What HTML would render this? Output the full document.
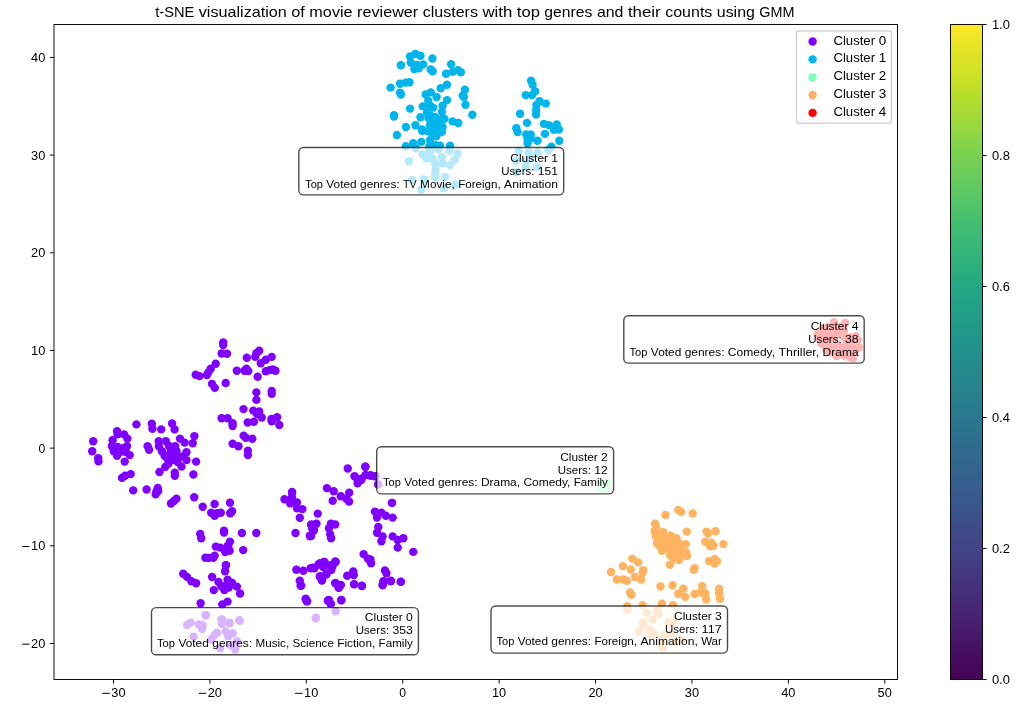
<!DOCTYPE html>
<html><head><meta charset="utf-8"><title>t-SNE clusters</title>
<style>html,body{margin:0;padding:0;background:#fff;}svg{display:block;will-change:transform;}text{font-family:"Liberation Sans",sans-serif;fill:#000;}</style></head>
<body>
<svg width="1022" height="706" viewBox="0 0 1022 706">
<rect x="0" y="0" width="1022" height="706" fill="#ffffff"/>
<defs><linearGradient id="vir" x1="0" y1="1" x2="0" y2="0">
<stop offset="0%" stop-color="#440154"/>
<stop offset="10%" stop-color="#482475"/>
<stop offset="20%" stop-color="#414487"/>
<stop offset="30%" stop-color="#355f8d"/>
<stop offset="40%" stop-color="#2a788e"/>
<stop offset="50%" stop-color="#21918c"/>
<stop offset="60%" stop-color="#22a884"/>
<stop offset="70%" stop-color="#44bf70"/>
<stop offset="80%" stop-color="#7ad151"/>
<stop offset="90%" stop-color="#bddf26"/>
<stop offset="100%" stop-color="#fde725"/>
</linearGradient></defs>
<g fill="#8000ff">
<circle cx="223.2" cy="342.5" r="4.2"/><circle cx="223.2" cy="345.0" r="4.2"/><circle cx="221.6" cy="353.5" r="4.2"/><circle cx="227.0" cy="353.8" r="4.2"/><circle cx="215.7" cy="363.8" r="4.2"/><circle cx="210.7" cy="368.8" r="4.2"/><circle cx="208.2" cy="372.6" r="4.2"/><circle cx="206.9" cy="375.1" r="4.2"/><circle cx="195.7" cy="374.8" r="4.2"/><circle cx="199.4" cy="376.1" r="4.2"/><circle cx="212.0" cy="383.9" r="4.2"/><circle cx="214.8" cy="387.9" r="4.2"/><circle cx="225.7" cy="383.0" r="4.2"/><circle cx="246.8" cy="357.8" r="4.2"/><circle cx="255.2" cy="356.9" r="4.2"/><circle cx="256.4" cy="353.2" r="4.2"/><circle cx="259.2" cy="350.7" r="4.2"/><circle cx="260.8" cy="363.2" r="4.2"/><circle cx="265.8" cy="359.8" r="4.2"/><circle cx="271.7" cy="356.9" r="4.2"/><circle cx="236.8" cy="370.7" r="4.2"/><circle cx="244.5" cy="370.7" r="4.2"/><circle cx="246.4" cy="368.8" r="4.2"/><circle cx="248.3" cy="371.1" r="4.2"/><circle cx="265.8" cy="371.3" r="4.2"/><circle cx="269.6" cy="370.1" r="4.2"/><circle cx="272.7" cy="369.5" r="4.2"/><circle cx="275.5" cy="370.7" r="4.2"/><circle cx="257.7" cy="376.7" r="4.2"/><circle cx="256.4" cy="392.4" r="4.2"/><circle cx="256.4" cy="399.9" r="4.2"/><circle cx="271.7" cy="391.0" r="4.2"/><circle cx="271.7" cy="393.9" r="4.2"/><circle cx="243.5" cy="409.1" r="4.2"/><circle cx="253.3" cy="410.6" r="4.2"/><circle cx="259.2" cy="411.5" r="4.2"/><circle cx="257.0" cy="414.0" r="4.2"/><circle cx="261.7" cy="417.5" r="4.2"/><circle cx="221.6" cy="418.2" r="4.2"/><circle cx="227.6" cy="418.2" r="4.2"/><circle cx="232.6" cy="423.2" r="4.2"/><circle cx="232.6" cy="426.0" r="4.2"/><circle cx="247.7" cy="422.5" r="4.2"/><circle cx="253.9" cy="421.7" r="4.2"/><circle cx="271.5" cy="419.0" r="4.2"/><circle cx="277.1" cy="417.3" r="4.2"/><circle cx="271.7" cy="421.3" r="4.2"/><circle cx="279.3" cy="425.0" r="4.2"/><circle cx="243.6" cy="435.7" r="4.2"/><circle cx="245.8" cy="437.8" r="4.2"/><circle cx="252.3" cy="438.8" r="4.2"/><circle cx="232.6" cy="443.8" r="4.2"/><circle cx="238.5" cy="446.3" r="4.2"/><circle cx="247.9" cy="450.7" r="4.2"/><circle cx="247.9" cy="455.1" r="4.2"/><circle cx="292.1" cy="492.0" r="4.2"/><circle cx="93.2" cy="441.3" r="4.2"/><circle cx="92.2" cy="451.3" r="4.2"/><circle cx="98.2" cy="458.2" r="4.2"/><circle cx="98.5" cy="461.4" r="4.2"/><circle cx="136.4" cy="424.4" r="4.2"/><circle cx="117.0" cy="431.1" r="4.2"/><circle cx="117.6" cy="434.4" r="4.2"/><circle cx="124.1" cy="434.4" r="4.2"/><circle cx="127.4" cy="438.6" r="4.2"/><circle cx="112.6" cy="440.3" r="4.2"/><circle cx="111.9" cy="446.3" r="4.2"/><circle cx="117.6" cy="447.0" r="4.2"/><circle cx="127.0" cy="446.3" r="4.2"/><circle cx="123.2" cy="448.2" r="4.2"/><circle cx="113.8" cy="451.3" r="4.2"/><circle cx="120.1" cy="452.0" r="4.2"/><circle cx="117.0" cy="455.7" r="4.2"/><circle cx="125.7" cy="452.0" r="4.2"/><circle cx="129.7" cy="455.1" r="4.2"/><circle cx="124.7" cy="461.6" r="4.2"/><circle cx="130.7" cy="474.1" r="4.2"/><circle cx="125.1" cy="475.8" r="4.2"/><circle cx="122.0" cy="477.9" r="4.2"/><circle cx="133.2" cy="490.4" r="4.2"/><circle cx="146.6" cy="489.5" r="4.2"/><circle cx="157.7" cy="487.9" r="4.2"/><circle cx="156.4" cy="491.4" r="4.2"/><circle cx="151.8" cy="423.8" r="4.2"/><circle cx="152.4" cy="428.8" r="4.2"/><circle cx="161.2" cy="429.4" r="4.2"/><circle cx="172.1" cy="423.5" r="4.2"/><circle cx="174.6" cy="429.4" r="4.2"/><circle cx="147.6" cy="446.3" r="4.2"/><circle cx="149.1" cy="449.8" r="4.2"/><circle cx="158.7" cy="441.3" r="4.2"/><circle cx="165.8" cy="441.1" r="4.2"/><circle cx="158.9" cy="446.3" r="4.2"/><circle cx="162.0" cy="451.3" r="4.2"/><circle cx="164.6" cy="455.7" r="4.2"/><circle cx="167.7" cy="458.9" r="4.2"/><circle cx="168.9" cy="445.7" r="4.2"/><circle cx="170.8" cy="451.3" r="4.2"/><circle cx="175.2" cy="446.3" r="4.2"/><circle cx="176.5" cy="451.3" r="4.2"/><circle cx="173.9" cy="456.4" r="4.2"/><circle cx="180.0" cy="438.6" r="4.2"/><circle cx="184.6" cy="442.6" r="4.2"/><circle cx="192.7" cy="443.2" r="4.2"/><circle cx="194.4" cy="436.1" r="4.2"/><circle cx="186.5" cy="452.3" r="4.2"/><circle cx="182.7" cy="456.4" r="4.2"/><circle cx="186.5" cy="460.1" r="4.2"/><circle cx="177.7" cy="462.0" r="4.2"/><circle cx="181.5" cy="466.6" r="4.2"/><circle cx="168.3" cy="463.9" r="4.2"/><circle cx="165.2" cy="467.0" r="4.2"/><circle cx="159.5" cy="472.0" r="4.2"/><circle cx="174.8" cy="472.6" r="4.2"/><circle cx="174.8" cy="475.8" r="4.2"/><circle cx="196.1" cy="461.6" r="4.2"/><circle cx="193.4" cy="474.5" r="4.2"/><circle cx="158.2" cy="491.0" r="4.2"/><circle cx="155.7" cy="494.4" r="4.2"/><circle cx="176.4" cy="498.8" r="4.2"/><circle cx="173.9" cy="501.0" r="4.2"/><circle cx="171.0" cy="503.5" r="4.2"/><circle cx="194.2" cy="497.3" r="4.2"/><circle cx="202.7" cy="506.7" r="4.2"/><circle cx="214.6" cy="504.0" r="4.2"/><circle cx="230.0" cy="502.8" r="4.2"/><circle cx="211.2" cy="512.8" r="4.2"/><circle cx="214.6" cy="515.7" r="4.2"/><circle cx="217.1" cy="513.2" r="4.2"/><circle cx="220.8" cy="512.8" r="4.2"/><circle cx="230.2" cy="513.2" r="4.2"/><circle cx="232.1" cy="511.3" r="4.2"/><circle cx="200.2" cy="533.9" r="4.2"/><circle cx="201.2" cy="538.2" r="4.2"/><circle cx="224.0" cy="530.7" r="4.2"/><circle cx="224.0" cy="532.6" r="4.2"/><circle cx="230.0" cy="541.6" r="4.2"/><circle cx="227.7" cy="545.8" r="4.2"/><circle cx="215.8" cy="546.6" r="4.2"/><circle cx="220.2" cy="547.6" r="4.2"/><circle cx="225.2" cy="552.0" r="4.2"/><circle cx="229.6" cy="550.8" r="4.2"/><circle cx="205.4" cy="557.7" r="4.2"/><circle cx="213.3" cy="557.7" r="4.2"/><circle cx="214.6" cy="555.8" r="4.2"/><circle cx="225.9" cy="565.2" r="4.2"/><circle cx="241.9" cy="533.0" r="4.2"/><circle cx="256.3" cy="533.0" r="4.2"/><circle cx="228.2" cy="546.4" r="4.2"/><circle cx="243.2" cy="550.1" r="4.2"/><circle cx="292.0" cy="492.9" r="4.2"/><circle cx="284.5" cy="499.2" r="4.2"/><circle cx="292.0" cy="497.5" r="4.2"/><circle cx="290.2" cy="503.2" r="4.2"/><circle cx="297.0" cy="502.5" r="4.2"/><circle cx="297.0" cy="508.2" r="4.2"/><circle cx="302.4" cy="509.1" r="4.2"/><circle cx="299.8" cy="517.8" r="4.2"/><circle cx="317.7" cy="513.6" r="4.2"/><circle cx="326.9" cy="488.1" r="4.2"/><circle cx="333.7" cy="491.3" r="4.2"/><circle cx="332.7" cy="500.7" r="4.2"/><circle cx="295.5" cy="533.0" r="4.2"/><circle cx="311.2" cy="524.5" r="4.2"/><circle cx="316.5" cy="523.6" r="4.2"/><circle cx="312.1" cy="528.2" r="4.2"/><circle cx="314.0" cy="530.1" r="4.2"/><circle cx="309.8" cy="535.7" r="4.2"/><circle cx="330.9" cy="523.8" r="4.2"/><circle cx="335.2" cy="524.5" r="4.2"/><circle cx="329.0" cy="528.2" r="4.2"/><circle cx="330.2" cy="534.5" r="4.2"/><circle cx="331.1" cy="538.2" r="4.2"/><circle cx="296.4" cy="569.8" r="4.2"/><circle cx="303.3" cy="570.7" r="4.2"/><circle cx="312.7" cy="567.8" r="4.2"/><circle cx="318.4" cy="564.4" r="4.2"/><circle cx="324.0" cy="561.9" r="4.2"/><circle cx="323.4" cy="566.9" r="4.2"/><circle cx="335.2" cy="561.4" r="4.2"/><circle cx="330.2" cy="565.2" r="4.2"/><circle cx="347.8" cy="468.5" r="4.2"/><circle cx="365.4" cy="466.7" r="4.2"/><circle cx="354.5" cy="476.3" r="4.2"/><circle cx="357.6" cy="479.4" r="4.2"/><circle cx="357.6" cy="483.2" r="4.2"/><circle cx="361.4" cy="478.8" r="4.2"/><circle cx="365.7" cy="475.1" r="4.2"/><circle cx="370.7" cy="475.7" r="4.2"/><circle cx="375.1" cy="476.3" r="4.2"/><circle cx="378.3" cy="484.4" r="4.2"/><circle cx="340.7" cy="496.3" r="4.2"/><circle cx="349.2" cy="492.8" r="4.2"/><circle cx="346.3" cy="498.8" r="4.2"/><circle cx="349.1" cy="501.6" r="4.2"/><circle cx="392.0" cy="502.9" r="4.2"/><circle cx="374.9" cy="511.6" r="4.2"/><circle cx="381.4" cy="512.6" r="4.2"/><circle cx="385.8" cy="515.8" r="4.2"/><circle cx="392.7" cy="517.6" r="4.2"/><circle cx="377.0" cy="517.6" r="4.2"/><circle cx="378.3" cy="527.0" r="4.2"/><circle cx="377.0" cy="532.7" r="4.2"/><circle cx="382.6" cy="536.4" r="4.2"/><circle cx="392.7" cy="536.4" r="4.2"/><circle cx="403.3" cy="538.3" r="4.2"/><circle cx="316.0" cy="523.9" r="4.2"/><circle cx="311.3" cy="525.2" r="4.2"/><circle cx="313.8" cy="530.2" r="4.2"/><circle cx="361.3" cy="480.1" r="4.2"/><circle cx="381.4" cy="541.3" r="4.2"/><circle cx="397.7" cy="540.0" r="4.2"/><circle cx="397.7" cy="547.6" r="4.2"/><circle cx="413.3" cy="551.9" r="4.2"/><circle cx="363.6" cy="554.1" r="4.2"/><circle cx="367.9" cy="558.8" r="4.2"/><circle cx="370.4" cy="559.5" r="4.2"/><circle cx="371.1" cy="563.2" r="4.2"/><circle cx="384.9" cy="570.4" r="4.2"/><circle cx="386.4" cy="573.2" r="4.2"/><circle cx="390.8" cy="580.7" r="4.2"/><circle cx="383.3" cy="581.4" r="4.2"/><circle cx="382.6" cy="585.1" r="4.2"/><circle cx="400.8" cy="581.6" r="4.2"/><circle cx="353.2" cy="571.4" r="4.2"/><circle cx="353.8" cy="575.1" r="4.2"/><circle cx="347.2" cy="575.7" r="4.2"/><circle cx="354.1" cy="584.1" r="4.2"/><circle cx="361.7" cy="585.8" r="4.2"/><circle cx="335.7" cy="583.3" r="4.2"/><circle cx="340.7" cy="585.1" r="4.2"/><circle cx="338.8" cy="587.9" r="4.2"/><circle cx="335.7" cy="562.0" r="4.2"/><circle cx="332.5" cy="566.3" r="4.2"/><circle cx="331.3" cy="570.1" r="4.2"/><circle cx="326.3" cy="574.5" r="4.2"/><circle cx="324.4" cy="562.0" r="4.2"/><circle cx="320.0" cy="563.2" r="4.2"/><circle cx="323.2" cy="567.0" r="4.2"/><circle cx="314.4" cy="568.2" r="4.2"/><circle cx="310.6" cy="568.2" r="4.2"/><circle cx="319.8" cy="576.6" r="4.2"/><circle cx="321.9" cy="580.1" r="4.2"/><circle cx="328.8" cy="600.2" r="4.2"/><circle cx="330.7" cy="603.9" r="4.2"/><circle cx="341.3" cy="600.2" r="4.2"/><circle cx="311.3" cy="535.7" r="4.2"/><circle cx="213.8" cy="590.1" r="4.2"/><circle cx="227.6" cy="579.8" r="4.2"/><circle cx="231.9" cy="582.6" r="4.2"/><circle cx="226.3" cy="585.1" r="4.2"/><circle cx="224.4" cy="590.1" r="4.2"/><circle cx="228.8" cy="587.6" r="4.2"/><circle cx="221.3" cy="586.4" r="4.2"/><circle cx="236.9" cy="586.6" r="4.2"/><circle cx="240.1" cy="593.5" r="4.2"/><circle cx="227.6" cy="601.6" r="4.2"/><circle cx="222.3" cy="604.5" r="4.2"/><circle cx="200.6" cy="603.3" r="4.2"/><circle cx="225.9" cy="565.1" r="4.2"/><circle cx="225.1" cy="571.3" r="4.2"/><circle cx="212.1" cy="577.0" r="4.2"/><circle cx="218.5" cy="582.0" r="4.2"/><circle cx="299.8" cy="580.7" r="4.2"/><circle cx="300.6" cy="585.7" r="4.2"/><circle cx="305.8" cy="599.5" r="4.2"/><circle cx="307.1" cy="601.4" r="4.2"/><circle cx="320.2" cy="576.3" r="4.2"/><circle cx="322.1" cy="579.5" r="4.2"/><circle cx="326.5" cy="573.8" r="4.2"/><circle cx="327.8" cy="600.8" r="4.2"/><circle cx="310.2" cy="536.3" r="4.2"/><circle cx="205.6" cy="615.2" r="4.2"/><circle cx="221.9" cy="619.5" r="4.2"/><circle cx="239.5" cy="620.2" r="4.2"/><circle cx="315.9" cy="617.7" r="4.2"/><circle cx="229.4" cy="622.7" r="4.2"/><circle cx="209.0" cy="557.9" r="4.2"/><circle cx="178.5" cy="457.0" r="4.2"/><circle cx="172.0" cy="460.0" r="4.2"/><circle cx="183.2" cy="573.8" r="4.2"/><circle cx="187.0" cy="576.9" r="4.2"/><circle cx="191.4" cy="581.3" r="4.2"/><circle cx="196.1" cy="583.2" r="4.2"/><circle cx="205.8" cy="615.3" r="4.2"/><circle cx="187.0" cy="625.1" r="4.2"/><circle cx="190.7" cy="622.6" r="4.2"/><circle cx="198.9" cy="624.5" r="4.2"/><circle cx="202.6" cy="625.1" r="4.2"/><circle cx="202.0" cy="628.8" r="4.2"/><circle cx="193.6" cy="636.6" r="4.2"/><circle cx="221.4" cy="619.5" r="4.2"/><circle cx="222.0" cy="623.8" r="4.2"/><circle cx="229.6" cy="623.2" r="4.2"/><circle cx="239.6" cy="620.7" r="4.2"/><circle cx="217.0" cy="632.6" r="4.2"/><circle cx="214.5" cy="635.1" r="4.2"/><circle cx="225.8" cy="631.4" r="4.2"/><circle cx="232.7" cy="633.2" r="4.2"/><circle cx="228.3" cy="636.4" r="4.2"/><circle cx="211.4" cy="639.5" r="4.2"/><circle cx="237.1" cy="641.4" r="4.2"/><circle cx="220.2" cy="648.3" r="4.2"/><circle cx="235.2" cy="649.5" r="4.2"/><circle cx="230.2" cy="645.1" r="4.2"/><circle cx="315.7" cy="618.6" r="4.2"/><circle cx="335.7" cy="611.3" r="4.2"/><circle cx="305.7" cy="598.8" r="4.2"/><circle cx="306.9" cy="601.3" r="4.2"/><circle cx="328.8" cy="600.0" r="4.2"/><circle cx="330.7" cy="603.8" r="4.2"/><circle cx="341.3" cy="600.0" r="4.2"/><circle cx="301.3" cy="585.6" r="4.2"/><circle cx="321.9" cy="580.6" r="4.2"/><circle cx="335.1" cy="583.1" r="4.2"/><circle cx="340.7" cy="585.0" r="4.2"/><circle cx="338.8" cy="587.5" r="4.2"/><circle cx="354.1" cy="584.4" r="4.2"/><circle cx="362.0" cy="586.0" r="4.2"/><circle cx="382.7" cy="585.0" r="4.2"/><circle cx="383.9" cy="581.3" r="4.2"/><circle cx="390.8" cy="581.3" r="4.2"/><circle cx="400.8" cy="581.9" r="4.2"/><circle cx="365.3" cy="466.7" r="4.2"/><circle cx="365.6" cy="475.1" r="4.2"/><circle cx="370.6" cy="475.1" r="4.2"/><circle cx="375.7" cy="476.3" r="4.2"/><circle cx="378.2" cy="484.5" r="4.2"/><circle cx="391.9" cy="502.9" r="4.2"/>
</g>
<g fill="#00b5eb">
<circle cx="400.9" cy="65.3" r="4.2"/><circle cx="410.1" cy="56.5" r="4.2"/><circle cx="415.4" cy="54.0" r="4.2"/><circle cx="420.5" cy="55.7" r="4.2"/><circle cx="410.7" cy="62.5" r="4.2"/><circle cx="432.4" cy="58.5" r="4.2"/><circle cx="423.2" cy="64.4" r="4.2"/><circle cx="414.4" cy="69.1" r="4.2"/><circle cx="418.8" cy="68.2" r="4.2"/><circle cx="417.0" cy="65.0" r="4.2"/><circle cx="430.7" cy="69.4" r="4.2"/><circle cx="432.6" cy="71.3" r="4.2"/><circle cx="451.1" cy="64.2" r="4.2"/><circle cx="446.0" cy="73.8" r="4.2"/><circle cx="452.6" cy="71.9" r="4.2"/><circle cx="457.9" cy="70.1" r="4.2"/><circle cx="460.8" cy="72.3" r="4.2"/><circle cx="390.6" cy="87.6" r="4.2"/><circle cx="400.0" cy="83.8" r="4.2"/><circle cx="405.7" cy="82.6" r="4.2"/><circle cx="409.4" cy="82.3" r="4.2"/><circle cx="400.0" cy="92.6" r="4.2"/><circle cx="400.9" cy="94.5" r="4.2"/><circle cx="447.0" cy="84.8" r="4.2"/><circle cx="440.7" cy="88.2" r="4.2"/><circle cx="464.9" cy="89.7" r="4.2"/><circle cx="462.7" cy="95.7" r="4.2"/><circle cx="463.9" cy="97.0" r="4.2"/><circle cx="465.5" cy="104.8" r="4.2"/><circle cx="472.4" cy="114.8" r="4.2"/><circle cx="425.7" cy="94.5" r="4.2"/><circle cx="430.7" cy="92.4" r="4.2"/><circle cx="436.6" cy="97.0" r="4.2"/><circle cx="428.2" cy="100.7" r="4.2"/><circle cx="447.0" cy="100.1" r="4.2"/><circle cx="422.8" cy="106.4" r="4.2"/><circle cx="429.5" cy="105.1" r="4.2"/><circle cx="433.2" cy="107.6" r="4.2"/><circle cx="442.6" cy="105.8" r="4.2"/><circle cx="410.1" cy="108.6" r="4.2"/><circle cx="394.0" cy="115.2" r="4.2"/><circle cx="394.0" cy="116.5" r="4.2"/><circle cx="427.0" cy="112.6" r="4.2"/><circle cx="430.1" cy="115.2" r="4.2"/><circle cx="442.0" cy="112.0" r="4.2"/><circle cx="420.5" cy="117.3" r="4.2"/><circle cx="428.8" cy="118.3" r="4.2"/><circle cx="435.1" cy="117.0" r="4.2"/><circle cx="440.1" cy="120.2" r="4.2"/><circle cx="444.5" cy="118.9" r="4.2"/><circle cx="452.6" cy="121.4" r="4.2"/><circle cx="458.3" cy="123.0" r="4.2"/><circle cx="405.9" cy="127.0" r="4.2"/><circle cx="415.4" cy="125.2" r="4.2"/><circle cx="430.1" cy="125.2" r="4.2"/><circle cx="437.6" cy="123.9" r="4.2"/><circle cx="442.6" cy="127.0" r="4.2"/><circle cx="422.0" cy="129.5" r="4.2"/><circle cx="433.0" cy="121.0" r="4.2"/><circle cx="396.9" cy="135.0" r="4.2"/><circle cx="422.0" cy="130.7" r="4.2"/><circle cx="427.6" cy="131.3" r="4.2"/><circle cx="435.1" cy="128.8" r="4.2"/><circle cx="442.0" cy="131.9" r="4.2"/><circle cx="432.6" cy="133.8" r="4.2"/><circle cx="436.4" cy="136.3" r="4.2"/><circle cx="430.1" cy="140.0" r="4.2"/><circle cx="421.3" cy="141.9" r="4.2"/><circle cx="413.2" cy="143.2" r="4.2"/><circle cx="405.9" cy="146.3" r="4.2"/><circle cx="415.7" cy="148.2" r="4.2"/><circle cx="429.5" cy="146.3" r="4.2"/><circle cx="435.7" cy="145.1" r="4.2"/><circle cx="440.1" cy="145.7" r="4.2"/><circle cx="450.1" cy="145.7" r="4.2"/><circle cx="449.5" cy="150.7" r="4.2"/><circle cx="457.7" cy="153.8" r="4.2"/><circle cx="438.2" cy="149.4" r="4.2"/><circle cx="430.1" cy="151.3" r="4.2"/><circle cx="422.6" cy="154.5" r="4.2"/><circle cx="426.3" cy="158.2" r="4.2"/><circle cx="432.6" cy="158.8" r="4.2"/><circle cx="442.0" cy="157.0" r="4.2"/><circle cx="454.5" cy="160.1" r="4.2"/><circle cx="450.1" cy="165.1" r="4.2"/><circle cx="442.6" cy="163.2" r="4.2"/><circle cx="435.1" cy="163.8" r="4.2"/><circle cx="408.8" cy="161.3" r="4.2"/><circle cx="435.7" cy="168.9" r="4.2"/><circle cx="435.1" cy="173.9" r="4.2"/><circle cx="435.1" cy="177.6" r="4.2"/><circle cx="445.1" cy="177.0" r="4.2"/><circle cx="411.9" cy="180.1" r="4.2"/><circle cx="423.8" cy="179.5" r="4.2"/><circle cx="421.3" cy="189.5" r="4.2"/><circle cx="443.9" cy="188.3" r="4.2"/><circle cx="455.2" cy="184.5" r="4.2"/><circle cx="531.0" cy="80.6" r="4.2"/><circle cx="532.6" cy="84.8" r="4.2"/><circle cx="535.1" cy="91.3" r="4.2"/><circle cx="525.7" cy="95.1" r="4.2"/><circle cx="532.0" cy="95.1" r="4.2"/><circle cx="539.5" cy="101.3" r="4.2"/><circle cx="545.8" cy="103.6" r="4.2"/><circle cx="536.4" cy="105.1" r="4.2"/><circle cx="536.1" cy="110.1" r="4.2"/><circle cx="536.1" cy="114.5" r="4.2"/><circle cx="520.1" cy="113.8" r="4.2"/><circle cx="527.0" cy="122.9" r="4.2"/><circle cx="543.9" cy="123.9" r="4.2"/><circle cx="548.9" cy="125.1" r="4.2"/><circle cx="556.7" cy="124.5" r="4.2"/><circle cx="558.9" cy="129.5" r="4.2"/><circle cx="553.9" cy="129.9" r="4.2"/><circle cx="516.3" cy="128.2" r="4.2"/><circle cx="517.6" cy="132.0" r="4.2"/><circle cx="526.3" cy="134.5" r="4.2"/><circle cx="530.7" cy="134.5" r="4.2"/><circle cx="544.9" cy="133.9" r="4.2"/><circle cx="527.6" cy="139.5" r="4.2"/><circle cx="530.7" cy="138.3" r="4.2"/><circle cx="537.6" cy="140.8" r="4.2"/><circle cx="527.6" cy="143.3" r="4.2"/><circle cx="559.3" cy="140.8" r="4.2"/><circle cx="551.4" cy="146.7" r="4.2"/><circle cx="548.3" cy="150.2" r="4.2"/><circle cx="518.8" cy="151.4" r="4.2"/><circle cx="528.8" cy="152.7" r="4.2"/><circle cx="537.6" cy="152.7" r="4.2"/><circle cx="516.3" cy="160.7" r="4.2"/><circle cx="526.3" cy="161.3" r="4.2"/><circle cx="525.7" cy="166.9" r="4.2"/><circle cx="537.0" cy="166.9" r="4.2"/><circle cx="516.9" cy="172.0" r="4.2"/><circle cx="530.0" cy="157.5" r="4.2"/>
</g>
<g fill="#80ffb4">
<circle cx="602.0" cy="484.0" r="4.2"/><circle cx="606.5" cy="486.0" r="4.2"/><circle cx="604.0" cy="488.5" r="4.2"/><circle cx="607.0" cy="482.5" r="4.2"/><circle cx="601.5" cy="487.5" r="4.2"/><circle cx="605.0" cy="485.0" r="4.2"/>
</g>
<g fill="#ffb360">
<circle cx="665.5" cy="515.0" r="4.2"/><circle cx="678.3" cy="510.0" r="4.2"/><circle cx="681.2" cy="511.9" r="4.2"/><circle cx="692.7" cy="513.5" r="4.2"/><circle cx="655.1" cy="523.8" r="4.2"/><circle cx="686.8" cy="531.6" r="4.2"/><circle cx="706.5" cy="531.6" r="4.2"/><circle cx="708.0" cy="533.2" r="4.2"/><circle cx="715.5" cy="531.3" r="4.2"/><circle cx="705.2" cy="541.6" r="4.2"/><circle cx="711.5" cy="542.6" r="4.2"/><circle cx="710.2" cy="546.4" r="4.2"/><circle cx="713.4" cy="545.7" r="4.2"/><circle cx="723.4" cy="544.1" r="4.2"/><circle cx="709.0" cy="561.1" r="4.2"/><circle cx="714.6" cy="558.9" r="4.2"/><circle cx="717.1" cy="561.1" r="4.2"/><circle cx="714.6" cy="563.6" r="4.2"/><circle cx="694.6" cy="568.3" r="4.2"/><circle cx="693.9" cy="569.9" r="4.2"/><circle cx="669.8" cy="564.8" r="4.2"/><circle cx="654.7" cy="531.3" r="4.2"/><circle cx="656.4" cy="528.8" r="4.2"/><circle cx="663.3" cy="532.2" r="4.2"/><circle cx="655.7" cy="536.3" r="4.2"/><circle cx="662.6" cy="537.6" r="4.2"/><circle cx="670.8" cy="535.7" r="4.2"/><circle cx="676.4" cy="538.2" r="4.2"/><circle cx="657.0" cy="543.2" r="4.2"/><circle cx="665.1" cy="542.6" r="4.2"/><circle cx="672.0" cy="542.0" r="4.2"/><circle cx="678.9" cy="543.2" r="4.2"/><circle cx="685.8" cy="544.1" r="4.2"/><circle cx="662.0" cy="550.7" r="4.2"/><circle cx="668.3" cy="548.9" r="4.2"/><circle cx="675.2" cy="548.2" r="4.2"/><circle cx="681.4" cy="549.5" r="4.2"/><circle cx="686.4" cy="552.6" r="4.2"/><circle cx="670.1" cy="555.1" r="4.2"/><circle cx="676.4" cy="554.5" r="4.2"/><circle cx="682.0" cy="555.1" r="4.2"/><circle cx="687.0" cy="556.1" r="4.2"/><circle cx="673.9" cy="558.9" r="4.2"/><circle cx="679.2" cy="560.1" r="4.2"/><circle cx="667.6" cy="545.1" r="4.2"/><circle cx="673.9" cy="545.1" r="4.2"/><circle cx="680.2" cy="546.4" r="4.2"/><circle cx="677.7" cy="551.4" r="4.2"/><circle cx="671.4" cy="551.4" r="4.2"/><circle cx="665.1" cy="546.4" r="4.2"/><circle cx="660.1" cy="546.4" r="4.2"/><circle cx="660.1" cy="540.1" r="4.2"/><circle cx="667.6" cy="539.5" r="4.2"/><circle cx="658.9" cy="533.8" r="4.2"/><circle cx="632.3" cy="558.6" r="4.2"/><circle cx="638.2" cy="562.4" r="4.2"/><circle cx="622.9" cy="566.1" r="4.2"/><circle cx="630.7" cy="569.5" r="4.2"/><circle cx="643.2" cy="570.2" r="4.2"/><circle cx="642.6" cy="572.7" r="4.2"/><circle cx="611.0" cy="572.0" r="4.2"/><circle cx="635.1" cy="577.0" r="4.2"/><circle cx="641.3" cy="579.5" r="4.2"/><circle cx="616.9" cy="579.5" r="4.2"/><circle cx="623.2" cy="579.5" r="4.2"/><circle cx="626.9" cy="580.8" r="4.2"/><circle cx="630.1" cy="592.5" r="4.2"/><circle cx="631.3" cy="594.8" r="4.2"/><circle cx="660.5" cy="586.5" r="4.2"/><circle cx="672.6" cy="585.3" r="4.2"/><circle cx="683.3" cy="588.8" r="4.2"/><circle cx="678.3" cy="593.8" r="4.2"/><circle cx="685.2" cy="596.9" r="4.2"/><circle cx="702.1" cy="586.3" r="4.2"/><circle cx="694.6" cy="594.0" r="4.2"/><circle cx="700.2" cy="592.5" r="4.2"/><circle cx="705.2" cy="593.2" r="4.2"/><circle cx="706.2" cy="599.4" r="4.2"/><circle cx="719.0" cy="588.8" r="4.2"/><circle cx="719.0" cy="593.2" r="4.2"/><circle cx="720.0" cy="598.8" r="4.2"/><circle cx="627.3" cy="606.3" r="4.2"/><circle cx="627.3" cy="609.5" r="4.2"/><circle cx="642.6" cy="605.1" r="4.2"/><circle cx="662.0" cy="603.6" r="4.2"/><circle cx="673.0" cy="605.1" r="4.2"/><circle cx="647.0" cy="612.6" r="4.2"/><circle cx="657.0" cy="610.7" r="4.2"/><circle cx="658.9" cy="613.8" r="4.2"/><circle cx="652.6" cy="619.5" r="4.2"/><circle cx="643.2" cy="622.6" r="4.2"/><circle cx="642.6" cy="624.5" r="4.2"/><circle cx="668.3" cy="622.6" r="4.2"/><circle cx="673.3" cy="621.4" r="4.2"/><circle cx="639.2" cy="631.6" r="4.2"/><circle cx="649.5" cy="629.5" r="4.2"/><circle cx="650.1" cy="633.9" r="4.2"/><circle cx="654.5" cy="634.5" r="4.2"/><circle cx="664.5" cy="635.1" r="4.2"/><circle cx="670.8" cy="633.9" r="4.2"/><circle cx="675.2" cy="642.6" r="4.2"/><circle cx="681.4" cy="640.1" r="4.2"/><circle cx="662.6" cy="648.3" r="4.2"/><circle cx="662.6" cy="643.9" r="4.2"/>
</g>
<g fill="#ff0000">
<circle cx="833.9" cy="322.3" r="4.2"/><circle cx="845.2" cy="322.9" r="4.2"/><circle cx="840.1" cy="327.3" r="4.2"/><circle cx="843.9" cy="331.1" r="4.2"/><circle cx="835.1" cy="329.8" r="4.2"/><circle cx="827.6" cy="327.3" r="4.2"/><circle cx="822.6" cy="328.6" r="4.2"/><circle cx="817.6" cy="334.2" r="4.2"/><circle cx="823.9" cy="334.8" r="4.2"/><circle cx="830.1" cy="334.8" r="4.2"/><circle cx="820.1" cy="339.8" r="4.2"/><circle cx="821.4" cy="343.6" r="4.2"/><circle cx="827.6" cy="341.1" r="4.2"/><circle cx="833.9" cy="338.6" r="4.2"/><circle cx="837.6" cy="344.8" r="4.2"/><circle cx="845.2" cy="338.6" r="4.2"/><circle cx="850.2" cy="337.3" r="4.2"/><circle cx="855.8" cy="336.1" r="4.2"/><circle cx="857.7" cy="339.8" r="4.2"/><circle cx="851.4" cy="342.3" r="4.2"/><circle cx="845.2" cy="346.1" r="4.2"/><circle cx="852.7" cy="347.4" r="4.2"/><circle cx="858.9" cy="347.4" r="4.2"/><circle cx="830.1" cy="346.1" r="4.2"/><circle cx="832.6" cy="351.1" r="4.2"/><circle cx="840.1" cy="351.1" r="4.2"/><circle cx="847.7" cy="352.4" r="4.2"/><circle cx="855.2" cy="351.1" r="4.2"/><circle cx="836.4" cy="356.1" r="4.2"/><circle cx="843.9" cy="355.5" r="4.2"/><circle cx="850.2" cy="357.4" r="4.2"/><circle cx="853.3" cy="358.0" r="4.2"/><circle cx="826.4" cy="349.9" r="4.2"/><circle cx="837.6" cy="333.6" r="4.2"/><circle cx="830.1" cy="352.4" r="4.2"/>
</g>
<rect x="298.8" y="147.5" width="264.9" height="47.4" rx="4.6" ry="4.6" fill="#fff" fill-opacity="0.7" stroke="#000" stroke-opacity="0.7" stroke-width="1.4"/>
<text y="162.00" font-size="11.11"><tspan x="510.38" textLength="37.57" lengthAdjust="spacingAndGlyphs">Cluster</tspan><tspan x="551.32" textLength="6.73" lengthAdjust="spacingAndGlyphs">1</tspan></text>
<text y="174.90" font-size="11.11"><tspan x="501.27" textLength="33.21" lengthAdjust="spacingAndGlyphs">Users:</tspan><tspan x="537.85" textLength="20.20" lengthAdjust="spacingAndGlyphs">151</tspan></text>
<text y="187.80" font-size="11.11"><tspan x="305.15" textLength="17.86" lengthAdjust="spacingAndGlyphs">Top</tspan><tspan x="326.38" textLength="30.28" lengthAdjust="spacingAndGlyphs">Voted</tspan><tspan x="360.02" textLength="39.65" lengthAdjust="spacingAndGlyphs">genres:</tspan><tspan x="403.04" textLength="13.71" lengthAdjust="spacingAndGlyphs">TV</tspan><tspan x="420.11" textLength="34.69" lengthAdjust="spacingAndGlyphs">Movie,</tspan><tspan x="458.17" textLength="42.55" lengthAdjust="spacingAndGlyphs">Foreign,</tspan><tspan x="504.08" textLength="53.97" lengthAdjust="spacingAndGlyphs">Animation</tspan></text>
<rect x="623.8" y="315.7" width="240.4" height="47.4" rx="4.6" ry="4.6" fill="#fff" fill-opacity="0.7" stroke="#000" stroke-opacity="0.7" stroke-width="1.4"/>
<text y="330.10" font-size="11.16"><tspan x="810.67" textLength="37.73" lengthAdjust="spacingAndGlyphs">Cluster</tspan><tspan x="851.79" textLength="6.76" lengthAdjust="spacingAndGlyphs">4</tspan></text>
<text y="342.80" font-size="11.16"><tspan x="808.29" textLength="33.35" lengthAdjust="spacingAndGlyphs">Users:</tspan><tspan x="845.02" textLength="13.53" lengthAdjust="spacingAndGlyphs">38</tspan></text>
<text y="355.50" font-size="11.16"><tspan x="629.55" textLength="17.94" lengthAdjust="spacingAndGlyphs">Top</tspan><tspan x="650.87" textLength="30.41" lengthAdjust="spacingAndGlyphs">Voted</tspan><tspan x="684.65" textLength="39.82" lengthAdjust="spacingAndGlyphs">genres:</tspan><tspan x="727.86" textLength="47.24" lengthAdjust="spacingAndGlyphs">Comedy,</tspan><tspan x="778.48" textLength="40.75" lengthAdjust="spacingAndGlyphs">Thriller,</tspan><tspan x="822.61" textLength="35.94" lengthAdjust="spacingAndGlyphs">Drama</tspan></text>
<rect x="376.7" y="446.7" width="236.9" height="47.2" rx="4.6" ry="4.6" fill="#fff" fill-opacity="0.7" stroke="#000" stroke-opacity="0.7" stroke-width="1.4"/>
<text y="460.90" font-size="11.11"><tspan x="560.19" textLength="37.56" lengthAdjust="spacingAndGlyphs">Cluster</tspan><tspan x="601.12" textLength="6.73" lengthAdjust="spacingAndGlyphs">2</tspan></text>
<text y="473.60" font-size="11.11"><tspan x="557.82" textLength="33.20" lengthAdjust="spacingAndGlyphs">Users:</tspan><tspan x="594.38" textLength="13.47" lengthAdjust="spacingAndGlyphs">12</tspan></text>
<text y="486.30" font-size="11.11"><tspan x="383.05" textLength="17.86" lengthAdjust="spacingAndGlyphs">Top</tspan><tspan x="404.27" textLength="30.27" lengthAdjust="spacingAndGlyphs">Voted</tspan><tspan x="437.90" textLength="39.64" lengthAdjust="spacingAndGlyphs">genres:</tspan><tspan x="480.91" textLength="39.14" lengthAdjust="spacingAndGlyphs">Drama,</tspan><tspan x="523.41" textLength="47.02" lengthAdjust="spacingAndGlyphs">Comedy,</tspan><tspan x="573.80" textLength="34.05" lengthAdjust="spacingAndGlyphs">Family</tspan></text>
<rect x="151.5" y="607.6" width="266.9" height="47.2" rx="4.6" ry="4.6" fill="#fff" fill-opacity="0.7" stroke="#000" stroke-opacity="0.7" stroke-width="1.4"/>
<text y="621.40" font-size="11.18"><tspan x="364.89" textLength="37.80" lengthAdjust="spacingAndGlyphs">Cluster</tspan><tspan x="406.08" textLength="6.77" lengthAdjust="spacingAndGlyphs">0</tspan></text>
<text y="634.10" font-size="11.18"><tspan x="355.73" textLength="33.41" lengthAdjust="spacingAndGlyphs">Users:</tspan><tspan x="392.53" textLength="20.32" lengthAdjust="spacingAndGlyphs">353</tspan></text>
<text y="646.80" font-size="11.18"><tspan x="157.05" textLength="17.97" lengthAdjust="spacingAndGlyphs">Top</tspan><tspan x="178.40" textLength="30.46" lengthAdjust="spacingAndGlyphs">Voted</tspan><tspan x="212.25" textLength="39.89" lengthAdjust="spacingAndGlyphs">genres:</tspan><tspan x="255.52" textLength="33.68" lengthAdjust="spacingAndGlyphs">Music,</tspan><tspan x="292.59" textLength="41.28" lengthAdjust="spacingAndGlyphs">Science</tspan><tspan x="337.25" textLength="37.95" lengthAdjust="spacingAndGlyphs">Fiction,</tspan><tspan x="378.59" textLength="34.26" lengthAdjust="spacingAndGlyphs">Family</tspan></text>
<rect x="491.0" y="606.0" width="236.5" height="47.1" rx="4.6" ry="4.6" fill="#fff" fill-opacity="0.7" stroke="#000" stroke-opacity="0.7" stroke-width="1.4"/>
<text y="620.00" font-size="11.13"><tspan x="674.12" textLength="37.62" lengthAdjust="spacingAndGlyphs">Cluster</tspan><tspan x="715.11" textLength="6.74" lengthAdjust="spacingAndGlyphs">3</tspan></text>
<text y="632.70" font-size="11.13"><tspan x="665.00" textLength="33.25" lengthAdjust="spacingAndGlyphs">Users:</tspan><tspan x="701.62" textLength="20.23" lengthAdjust="spacingAndGlyphs">117</tspan></text>
<text y="645.40" font-size="11.13"><tspan x="496.45" textLength="17.88" lengthAdjust="spacingAndGlyphs">Top</tspan><tspan x="517.70" textLength="30.31" lengthAdjust="spacingAndGlyphs">Voted</tspan><tspan x="551.38" textLength="39.70" lengthAdjust="spacingAndGlyphs">genres:</tspan><tspan x="594.46" textLength="42.60" lengthAdjust="spacingAndGlyphs">Foreign,</tspan><tspan x="640.43" textLength="57.40" lengthAdjust="spacingAndGlyphs">Animation,</tspan><tspan x="701.20" textLength="20.65" lengthAdjust="spacingAndGlyphs">War</tspan></text>
<rect x="54.0" y="24.5" width="843.50" height="655.00" fill="none" stroke="#000" stroke-width="0.94"/>
<line x1="113.50" y1="679.5" x2="113.50" y2="683.61" stroke="#000" stroke-width="0.94"/>
<rect x="102.35" y="692.82" width="7.35" height="0.99" fill="#000"/>
<text x="111.30" y="697.00" font-size="11.98" textLength="14.24" lengthAdjust="spacingAndGlyphs">30</text>
<line x1="209.91" y1="679.5" x2="209.91" y2="683.61" stroke="#000" stroke-width="0.94"/>
<rect x="198.76" y="692.82" width="7.35" height="0.99" fill="#000"/>
<text x="207.71" y="697.00" font-size="11.98" textLength="14.24" lengthAdjust="spacingAndGlyphs">20</text>
<line x1="306.32" y1="679.5" x2="306.32" y2="683.61" stroke="#000" stroke-width="0.94"/>
<rect x="295.17" y="692.82" width="7.35" height="0.99" fill="#000"/>
<text x="304.12" y="697.00" font-size="11.98" textLength="14.24" lengthAdjust="spacingAndGlyphs">10</text>
<line x1="402.72" y1="679.5" x2="402.72" y2="683.61" stroke="#000" stroke-width="0.94"/>
<text x="399.34" y="697.00" font-size="11.98" textLength="6.77" lengthAdjust="spacingAndGlyphs">0</text>
<line x1="499.13" y1="679.5" x2="499.13" y2="683.61" stroke="#000" stroke-width="0.94"/>
<text x="492.01" y="697.00" font-size="11.98" textLength="14.24" lengthAdjust="spacingAndGlyphs">10</text>
<line x1="595.54" y1="679.5" x2="595.54" y2="683.61" stroke="#000" stroke-width="0.94"/>
<text x="588.42" y="697.00" font-size="11.98" textLength="14.24" lengthAdjust="spacingAndGlyphs">20</text>
<line x1="691.95" y1="679.5" x2="691.95" y2="683.61" stroke="#000" stroke-width="0.94"/>
<text x="684.83" y="697.00" font-size="11.98" textLength="14.24" lengthAdjust="spacingAndGlyphs">30</text>
<line x1="788.36" y1="679.5" x2="788.36" y2="683.61" stroke="#000" stroke-width="0.94"/>
<text x="781.24" y="697.00" font-size="11.98" textLength="14.24" lengthAdjust="spacingAndGlyphs">40</text>
<line x1="884.76" y1="679.5" x2="884.76" y2="683.61" stroke="#000" stroke-width="0.94"/>
<text x="877.64" y="697.00" font-size="11.98" textLength="14.24" lengthAdjust="spacingAndGlyphs">50</text>
<line x1="49.89" y1="643.47" x2="54.0" y2="643.47" stroke="#000" stroke-width="0.94"/>
<rect x="22.16" y="643.69" width="7.35" height="0.99" fill="#000"/>
<text x="31.11" y="647.87" font-size="11.98" textLength="14.24" lengthAdjust="spacingAndGlyphs">20</text>
<line x1="49.89" y1="545.80" x2="54.0" y2="545.80" stroke="#000" stroke-width="0.94"/>
<rect x="22.16" y="546.02" width="7.35" height="0.99" fill="#000"/>
<text x="31.11" y="550.20" font-size="11.98" textLength="14.24" lengthAdjust="spacingAndGlyphs">10</text>
<line x1="49.89" y1="448.13" x2="54.0" y2="448.13" stroke="#000" stroke-width="0.94"/>
<text x="38.58" y="452.53" font-size="11.98" textLength="6.77" lengthAdjust="spacingAndGlyphs">0</text>
<line x1="49.89" y1="350.46" x2="54.0" y2="350.46" stroke="#000" stroke-width="0.94"/>
<text x="31.11" y="354.86" font-size="11.98" textLength="14.24" lengthAdjust="spacingAndGlyphs">10</text>
<line x1="49.89" y1="252.79" x2="54.0" y2="252.79" stroke="#000" stroke-width="0.94"/>
<text x="31.11" y="257.19" font-size="11.98" textLength="14.24" lengthAdjust="spacingAndGlyphs">20</text>
<line x1="49.89" y1="155.12" x2="54.0" y2="155.12" stroke="#000" stroke-width="0.94"/>
<text x="31.11" y="159.52" font-size="11.98" textLength="14.24" lengthAdjust="spacingAndGlyphs">30</text>
<line x1="49.89" y1="57.45" x2="54.0" y2="57.45" stroke="#000" stroke-width="0.94"/>
<text x="31.11" y="61.85" font-size="11.98" textLength="14.24" lengthAdjust="spacingAndGlyphs">40</text>
<text y="17.30" font-size="14.80"><tspan x="155.30" textLength="39.01" lengthAdjust="spacingAndGlyphs">t-SNE</tspan><tspan x="198.78" textLength="88.03" lengthAdjust="spacingAndGlyphs">visualization</tspan><tspan x="291.29" textLength="13.58" lengthAdjust="spacingAndGlyphs">of</tspan><tspan x="309.36" textLength="43.28" lengthAdjust="spacingAndGlyphs">movie</tspan><tspan x="357.12" textLength="61.07" lengthAdjust="spacingAndGlyphs">reviewer</tspan><tspan x="422.67" textLength="55.27" lengthAdjust="spacingAndGlyphs">clusters</tspan><tspan x="482.42" textLength="29.90" lengthAdjust="spacingAndGlyphs">with</tspan><tspan x="516.81" textLength="23.09" lengthAdjust="spacingAndGlyphs">top</tspan><tspan x="544.38" textLength="48.05" lengthAdjust="spacingAndGlyphs">genres</tspan><tspan x="596.91" textLength="26.52" lengthAdjust="spacingAndGlyphs">and</tspan><tspan x="627.90" textLength="32.84" lengthAdjust="spacingAndGlyphs">their</tspan><tspan x="665.22" textLength="47.11" lengthAdjust="spacingAndGlyphs">counts</tspan><tspan x="716.81" textLength="38.07" lengthAdjust="spacingAndGlyphs">using</tspan><tspan x="759.36" textLength="35.24" lengthAdjust="spacingAndGlyphs">GMM</tspan></text>
<rect x="796.5" y="30.8" width="94.9" height="92.3" rx="2.3" ry="2.3" fill="#fff" fill-opacity="0.8" stroke="#cccccc" stroke-width="1.17"/>
<circle cx="812.6" cy="41.50" r="4.2" fill="#8000ff"/>
<text y="44.50" font-size="12.33"><tspan x="833.40" textLength="41.69" lengthAdjust="spacingAndGlyphs">Cluster</tspan><tspan x="878.82" textLength="7.47" lengthAdjust="spacingAndGlyphs">0</tspan></text>
<circle cx="812.6" cy="59.35" r="4.2" fill="#00b5eb"/>
<text y="62.35" font-size="12.33"><tspan x="833.40" textLength="41.69" lengthAdjust="spacingAndGlyphs">Cluster</tspan><tspan x="878.82" textLength="7.47" lengthAdjust="spacingAndGlyphs">1</tspan></text>
<circle cx="812.6" cy="77.20" r="4.2" fill="#80ffb4"/>
<text y="80.20" font-size="12.33"><tspan x="833.40" textLength="41.69" lengthAdjust="spacingAndGlyphs">Cluster</tspan><tspan x="878.82" textLength="7.47" lengthAdjust="spacingAndGlyphs">2</tspan></text>
<circle cx="812.6" cy="95.05" r="4.2" fill="#ffb360"/>
<text y="98.05" font-size="12.33"><tspan x="833.40" textLength="41.69" lengthAdjust="spacingAndGlyphs">Cluster</tspan><tspan x="878.82" textLength="7.47" lengthAdjust="spacingAndGlyphs">3</tspan></text>
<circle cx="812.6" cy="112.90" r="4.2" fill="#ff0000"/>
<text y="115.90" font-size="12.33"><tspan x="833.40" textLength="41.69" lengthAdjust="spacingAndGlyphs">Cluster</tspan><tspan x="878.82" textLength="7.47" lengthAdjust="spacingAndGlyphs">4</tspan></text>
<rect x="950.5" y="24.5" width="32.00" height="655.00" fill="url(#vir)" stroke="#000" stroke-width="0.94"/>
<line x1="982.5" y1="679.50" x2="986.61" y2="679.50" stroke="#000" stroke-width="0.94"/>
<text x="991.95" y="684.00" font-size="11.98" textLength="17.97" lengthAdjust="spacingAndGlyphs">0.0</text>
<line x1="982.5" y1="548.50" x2="986.61" y2="548.50" stroke="#000" stroke-width="0.94"/>
<text x="991.95" y="553.00" font-size="11.98" textLength="17.97" lengthAdjust="spacingAndGlyphs">0.2</text>
<line x1="982.5" y1="417.50" x2="986.61" y2="417.50" stroke="#000" stroke-width="0.94"/>
<text x="991.95" y="422.00" font-size="11.98" textLength="17.97" lengthAdjust="spacingAndGlyphs">0.4</text>
<line x1="982.5" y1="286.50" x2="986.61" y2="286.50" stroke="#000" stroke-width="0.94"/>
<text x="991.95" y="291.00" font-size="11.98" textLength="17.97" lengthAdjust="spacingAndGlyphs">0.6</text>
<line x1="982.5" y1="155.50" x2="986.61" y2="155.50" stroke="#000" stroke-width="0.94"/>
<text x="991.95" y="160.00" font-size="11.98" textLength="17.97" lengthAdjust="spacingAndGlyphs">0.8</text>
<line x1="982.5" y1="24.50" x2="986.61" y2="24.50" stroke="#000" stroke-width="0.94"/>
<text x="991.95" y="29.00" font-size="11.98" textLength="17.97" lengthAdjust="spacingAndGlyphs">1.0</text>
</svg>
</body></html>
